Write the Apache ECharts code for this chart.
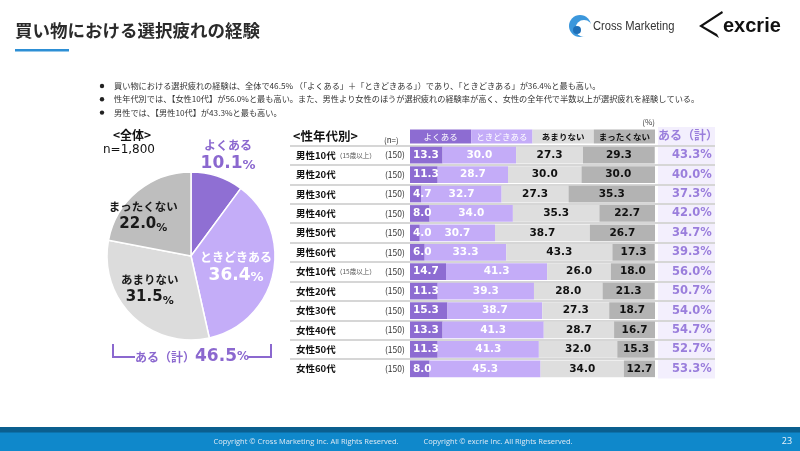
<!DOCTYPE html>
<html><head><meta charset="utf-8">
<script src="https://cdn.jsdelivr.net/npm/echarts@6/dist/echarts.min.js"></script>
<style>html,body{margin:0;padding:0;background:#fff}#c{width:800px;height:451px}</style>
</head><body><div id="c"></div>
<script>
// ---- data ----
const groups = ['男性10代（15歳以上）','男性20代','男性30代','男性40代','男性50代','男性60代','女性10代（15歳以上）','女性20代','女性30代','女性40代','女性50代','女性60代'];
const sampleN = [150,150,150,150,150,150,150,150,150,150,150,150];
const often = [13.3,11.3,4.7,8.0,4.0,6.0,14.7,11.3,15.3,13.3,11.3,8.0];
const sometimes = [30.0,28.7,32.7,34.0,30.7,33.3,41.3,39.3,38.7,41.3,41.3,45.3];
const rarely = [27.3,30.0,27.3,35.3,38.7,43.3,26.0,28.0,27.3,28.7,32.0,34.0];
const never = [29.3,30.0,35.3,22.7,26.7,17.3,18.0,21.3,18.7,16.7,15.3,12.7];
const anyTotal = [43.3,40.0,37.3,42.0,34.7,39.3,56.0,50.7,54.0,54.7,52.7,53.3];
const answerLabels = ['よくある','ときどきある','あまりない','まったくない'];
const overallValues = [10.1,36.4,31.5,22.0];
const overallN = '1,800';

// ---- styles ----
const JP = "'Noto Sans CJK JP','Noto Sans',sans-serif";
const NUM = "'DejaVu Sans','Noto Sans CJK JP',sans-serif";
const colors = ['#8d6cd2','#c4acf8','#dedede','#b3b3b3'];
const purpleText = '#9a7edc';
const pieColors = ['#8f6fd3','#c4adf8','#dcdcdc','#bebebe'];

const chart = echarts.init(document.getElementById('c'), null, {renderer:'canvas'});

const gridTop = 145.5, gridBottom = 451 - 378.5;
const barLeft = 410, barWidth = 245;

const pieLabelCfg = [
  {offset:[23,-59], t:'#8b68cf', v:'#8b68cf', ts:12, vs:17},
  {offset:[1,1], t:'#ffffff', v:'#ffffff', ts:12, vs:17},
  {offset:[-10,0], t:'#1a1a1a', v:'#1a1a1a', ts:11.5, vs:15},
  {offset:[-19,-6], t:'#1a1a1a', v:'#1a1a1a', ts:11.5, vs:15}
];

function rowLabel(v){
  const i = groups.indexOf(v);
  const k = v.indexOf('（');
  const n = '{n|(' + sampleN[i] + ')}';
  if (k >= 0) return '{nm|' + v.slice(0,k) + '}{sb|' + v.slice(k) + '}' + n;
  return '{nw|' + v + '}' + n;
}

function segLabel(color, pos){
  return {show:true, position:pos, color:color, fontFamily:NUM, fontWeight:'bold', fontSize:10.5,
    distance:3, formatter:p=>p.value.toFixed(1)};
}

const bracketY = 357, bracketTop = 344;

const option = {
  animation:false,
  grid:[
    {left:barLeft, width:barWidth, top:gridTop, bottom:gridBottom},
    {left:290, right:85, top:gridTop, bottom:gridBottom},
    {left:668, right:85, top:gridTop, bottom:gridBottom}
  ],
  xAxis:[
    {gridIndex:0, type:'value', min:0, max:100, show:false},
    {gridIndex:1, type:'value', min:0, max:1, show:false},
    {gridIndex:2, type:'value', min:0, max:100, show:false}
  ],
  yAxis:[
    {gridIndex:0, type:'category', data:groups, inverse:true,
      axisLine:{show:false}, axisTick:{show:false}, splitLine:{show:false},
      axisLabel:{align:'left', margin:114, formatter:rowLabel,
        rich:{
          nm:{fontFamily:JP, fontWeight:'bold', fontSize:9.5, color:'#111', width:40},
          sb:{fontFamily:JP, fontSize:6.5, color:'#555', width:49},
          nw:{fontFamily:JP, fontWeight:'bold', fontSize:9.5, color:'#111', width:89},
          n:{fontFamily:JP, fontSize:8.5, color:'#333'}
        }}},
    {gridIndex:1, type:'category', data:groups, inverse:true,
      axisLine:{show:false}, axisTick:{show:false}, axisLabel:{show:false},
      splitLine:{show:true, showMaxLine:false, lineStyle:{color:'#d6d6d6', width:2}}},
    {gridIndex:2, type:'category', data:groups, inverse:true, show:false}
  ],
  series:[
    {type:'bar', name:answerLabels[0], xAxisIndex:0, yAxisIndex:0, stack:'s', data:often,
      barWidth:'86%', itemStyle:{color:colors[0]}, label:segLabel('#ffffff','insideLeft'), z:3},
    {type:'bar', name:answerLabels[1], xAxisIndex:0, yAxisIndex:0, stack:'s', data:sometimes,
      itemStyle:{color:colors[1]}, label:segLabel('#ffffff','inside'), z:3},
    {type:'bar', name:answerLabels[2], xAxisIndex:0, yAxisIndex:0, stack:'s', data:rarely,
      itemStyle:{color:colors[2]}, label:segLabel('#111111','inside'), z:3},
    {type:'bar', name:answerLabels[3], xAxisIndex:0, yAxisIndex:0, stack:'s', data:never,
      itemStyle:{color:colors[3]}, label:segLabel('#111111','inside'), z:3},
    {type:'bar', name:'ある（計）', xAxisIndex:2, yAxisIndex:2, data:anyTotal,
      itemStyle:{color:'rgba(0,0,0,0)'}, z:4,
      label:{show:true, position:'insideLeft', distance:4, color:purpleText, fontFamily:NUM,
        fontWeight:'bold', fontSize:11.5, formatter:p=>p.value.toFixed(1)+'%'}},
    {type:'pie', center:[191,256], radius:84, startAngle:90, clockwise:true,
      itemStyle:{borderColor:'#ffffff', borderWidth:1.5},
      labelLine:{show:false},
      data: answerLabels.map((n,i)=>({
        name:n, value:overallValues[i], itemStyle:{color:pieColors[i]},
        label:{show:true, position:'inside', offset:pieLabelCfg[i].offset, lineHeight:18,
          formatter:p=>'{t|'+p.name+'}\n{v|'+p.value.toFixed(1)+'}{p|%}',
          rich:{
            t:{fontFamily:JP, fontWeight:'bold', fontSize:pieLabelCfg[i].ts, color:pieLabelCfg[i].t, align:'center'},
            v:{fontFamily:NUM, fontWeight:'bold', fontSize:pieLabelCfg[i].vs, color:pieLabelCfg[i].v},
            p:{fontFamily:NUM, fontWeight:'bold', fontSize:pieLabelCfg[i].vs-4, color:pieLabelCfg[i].v, verticalAlign:'bottom'}
          }}
      }))
    }
  ],
  graphic:[]
};

// ---- decorations (layout) ----
const g = [];
g.push({type:'text', left:15, top:22, style:{text:'買い物における選択疲れの経験', font:"bold 17.5px "+JP, fill:'#2b2b2b'}});
g.push({type:'rect', shape:{x:15, y:49, width:54, height:2.5}, style:{fill:'#2d8fd5'}});
// Cross Marketing logo
g.push({type:'circle', shape:{cx:580, cy:26, r:11}, style:{fill:'#3b97dc'}});
g.push({type:'circle', shape:{cx:584, cy:28.5, r:8.5}, style:{fill:'#ffffff'}});
g.push({type:'circle', shape:{cx:577, cy:30, r:4}, style:{fill:'#1e6fb8'}});
g.push({type:'text', x:593, y:26, scaleX:0.86, style:{text:'Cross Marketing', font:"13px 'Liberation Sans',sans-serif", fill:'#333', verticalAlign:'middle'}});
// excrie logo
g.push({type:'polygon', shape:{points:[[722,11],[699,26],[719,38],[717,34],[703,26],[723,13]]}, style:{fill:'#111'}});
g.push({type:'text', x:723, y:26, style:{text:'excrie', font:"bold 20px 'Liberation Sans',sans-serif", fill:'#111', verticalAlign:'middle'}});
// bullets
const bullets = [
  '買い物における選択疲れの経験は、全体で46.5% （「よくある」＋「ときどきある」）であり、「ときどきある」が36.4%と最も高い。',
  '性年代別では、【女性10代】が56.0%と最も高い。また、男性より女性のほうが選択疲れの経験率が高く、女性の全年代で半数以上が選択疲れを経験している。',
  '男性では、【男性10代】が43.3%と最も高い。'
];
bullets.forEach((b,i)=>{
  const y = 86 + i*13.3;
  g.push({type:'circle', shape:{cx:102, cy:y, r:2.2}, style:{fill:'#222'}});
  g.push({type:'text', x:114, y:y, style:{text:b, font:"8.2px "+JP, fill:'#333', verticalAlign:'middle'}});
});
// overall labels
g.push({type:'text', x:132, y:135, style:{text:'<全体>', font:"bold 12px "+JP, fill:'#111', align:'center', verticalAlign:'middle'}});
g.push({type:'text', x:129, y:150, style:{text:'n='+overallN, font:"12px "+NUM, fill:'#111', align:'center', verticalAlign:'middle'}});
// bracket
const bc = '#8b68cf';
g.push({type:'polyline', shape:{points:[[113,bracketTop],[113,bracketY],[135,bracketY]]}, style:{stroke:bc, lineWidth:2, fill:null}});
g.push({type:'polyline', shape:{points:[[248,bracketY],[271,bracketY],[271,bracketTop]]}, style:{stroke:bc, lineWidth:2, fill:null}});
const anySum = (overallValues[0]+overallValues[1]).toFixed(1);
g.push({type:'text', x:192, y:bracketY, style:{
  text:'{a|ある（計）}{b|'+anySum+'}{c|%}', align:'center', verticalAlign:'middle',
  rich:{a:{font:"bold 12px "+JP, fill:bc}, b:{font:"bold 17px "+NUM, fill:bc}, c:{font:"bold 12px "+NUM, fill:bc}}}});
// table header
g.push({type:'text', x:293, y:136, style:{text:'<性年代別>', font:"bold 12.5px "+JP, fill:'#111', verticalAlign:'middle'}});
g.push({type:'text', x:384, y:140, style:{text:'(n=)', font:"8px "+JP, fill:'#333', verticalAlign:'middle'}});
g.push({type:'text', x:655, y:122, style:{text:'(%)', font:"8px "+JP, fill:'#444', align:'right', verticalAlign:'middle'}});
g.push({type:'rect', shape:{x:658, y:127, width:57, height:251.5}, style:{fill:'#f3effd'}, z:-1});
const headFill = ['#ffffff','#ffffff','#111111','#111111'];
answerLabels.forEach((a,i)=>{
  const w = barWidth/4;
  g.push({type:'rect', shape:{x:barLeft+i*w, y:129.5, width:w, height:14}, style:{fill:colors[i]}});
  g.push({type:'text', x:barLeft+i*w+w/2, y:136.5, style:{text:a, font:(i>1?'bold ':'')+"8.5px "+JP, fill:headFill[i], align:'center', verticalAlign:'middle'}});
});
g.push({type:'text', x:688, y:135.5, style:{text:'ある（計）', font:"bold 12px "+JP, fill:purpleText, align:'center', verticalAlign:'middle'}});
// footer
g.push({type:'rect', shape:{x:0, y:427, width:800, height:6}, style:{fill:'#0b5f8f'}});
g.push({type:'rect', shape:{x:0, y:432.5, width:800, height:19}, style:{fill:'#0f88cb'}});
g.push({type:'text', x:306, y:441.5, style:{text:'Copyright © Cross Marketing Inc. All Rights Reserved.', font:"7.5px 'Open Sans',sans-serif", fill:'#dfeaf4', align:'center', verticalAlign:'middle'}});
g.push({type:'text', x:498, y:441.5, style:{text:'Copyright © excrie Inc. All Rights Reserved.', font:"7.5px 'Open Sans',sans-serif", fill:'#dfeaf4', align:'center', verticalAlign:'middle'}});
g.push({type:'text', x:787, y:441.5, style:{text:'23', font:"9px 'Open Sans',sans-serif", fill:'#eef4fa', align:'center', verticalAlign:'middle'}});

option.graphic = g;
chart.setOption(option);
</script>
</body></html>
